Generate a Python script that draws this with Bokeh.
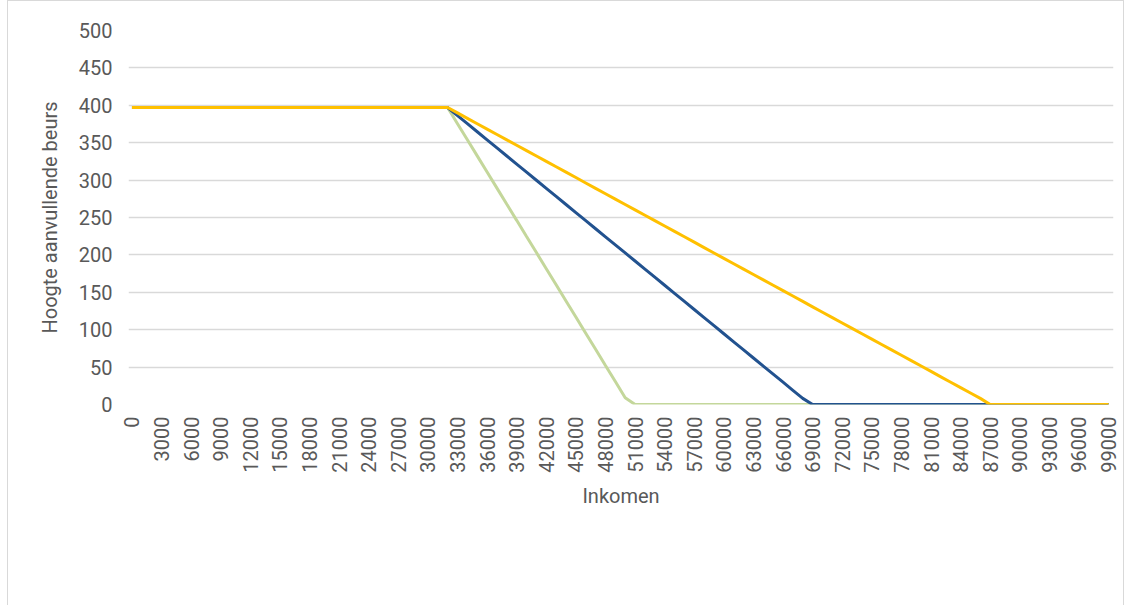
import math
from bokeh.plotting import figure
from bokeh.models import Range1d, FixedTicker, Legend, LegendItem
from bokeh.embed import file_html
from bokeh.resources import INLINE

income = list(range(0, 100000, 1000))

basis = [397, 397, 397, 397, 397, 397, 397, 397, 397, 397,
         397, 397, 397, 397, 397, 397, 397, 397, 397, 397,
         397, 397, 397, 397, 397, 397, 397, 397, 397, 397,
         397, 397, 397, 375.4, 353.9, 332.4, 310.8, 289.3, 267.7, 246.2,
         224.6, 203.1, 181.5, 160.0, 138.4, 116.9, 95.3, 73.8, 52.2, 30.7,
         9.1, 0, 0, 0, 0, 0, 0, 0, 0, 0,
         0, 0, 0, 0, 0, 0, 0, 0, 0, 0,
         0, 0, 0, 0, 0, 0, 0, 0, 0, 0,
         0, 0, 0, 0, 0, 0, 0, 0, 0, 0,
         0, 0, 0, 0, 0, 0, 0, 0, 0, 0]

twee = [397, 397, 397, 397, 397, 397, 397, 397, 397, 397,
        397, 397, 397, 397, 397, 397, 397, 397, 397, 397,
        397, 397, 397, 397, 397, 397, 397, 397, 397, 397,
        397, 397, 397, 386.2, 375.4, 364.6, 353.8, 343.0, 332.2, 321.4,
        310.6, 299.8, 289.0, 278.2, 267.4, 256.6, 245.8, 235.0, 224.2, 213.4,
        202.6, 191.8, 181.0, 170.2, 159.4, 148.6, 137.8, 127.0, 116.2, 105.4,
        94.6, 83.8, 73.0, 62.2, 51.4, 40.6, 29.8, 19.0, 8.2, 0,
        0, 0, 0, 0, 0, 0, 0, 0, 0, 0,
        0, 0, 0, 0, 0, 0, 0, 0, 0, 0,
        0, 0, 0, 0, 0, 0, 0, 0, 0, 0]

drie = [397, 397, 397, 397, 397, 397, 397, 397, 397, 397,
        397, 397, 397, 397, 397, 397, 397, 397, 397, 397,
        397, 397, 397, 397, 397, 397, 397, 397, 397, 397,
        397, 397, 397, 389.8, 382.6, 375.4, 368.2, 361.0, 353.8, 346.6,
        339.4, 332.2, 325.0, 317.8, 310.6, 303.4, 296.2, 289.0, 281.8, 274.6,
        267.4, 260.2, 253.0, 245.8, 238.6, 231.4, 224.2, 217.0, 209.8, 202.6,
        195.4, 188.2, 181.0, 173.8, 166.6, 159.4, 152.2, 145.0, 137.8, 130.6,
        123.4, 116.2, 109.0, 101.8, 94.6, 87.4, 80.2, 73.0, 65.8, 58.6,
        51.4, 44.2, 37.0, 29.8, 22.6, 15.4, 8.2, 0, 0, 0,
        0, 0, 0, 0, 0, 0, 0, 0, 0, 0]

x_ticks = list(range(0, 100000, 3000))
y_ticks = [0, 50, 100, 150, 200, 250, 300, 350, 400, 450, 500]

series_names = ["Basis", "Twee studerende kinderen", "Drie studerende kinderen"]
colors = ["#c4d79b", "#22528f", "#ffc000"]

FONT = "Roboto"
TXT = "#595959"
GRID = "#d9d9d9"

p = figure(output_backend="svg", toolbar_location=None,
           frame_width=985, frame_height=374,
           min_border_left=120, min_border_right=10,
           min_border_top=29, min_border_bottom=0,
           x_range=Range1d(-350, 99500), y_range=Range1d(0, 500))
p.margin = (0, 0, 0, 7)
p.background_fill_color = "white"
p.border_fill_color = "white"
p.outline_line_color = None
p.styles = {"border": "1px solid #d9d9d9"}

renderers = []
for ys, c in zip([basis, twee, drie], colors):
    r = p.line(income, ys, line_color=c, line_width=3)
    renderers.append(r)

p.xaxis.ticker = FixedTicker(ticks=x_ticks)
p.yaxis.ticker = FixedTicker(ticks=y_ticks)
p.xaxis.major_label_orientation = math.pi / 2
p.xgrid.grid_line_color = None
p.ygrid.grid_line_color = GRID
p.ygrid.grid_line_width = 1.3

for ax in (p.xaxis[0], p.yaxis[0]):
    ax.axis_line_color = None
    ax.major_tick_line_color = None
    ax.minor_tick_line_color = None
    ax.major_tick_in = 0
    ax.major_tick_out = 0
    ax.major_label_text_font = FONT
    ax.major_label_text_font_size = "20px"
    ax.major_label_text_color = TXT
    ax.axis_label_text_font = FONT
    ax.axis_label_text_font_size = "20px"
    ax.axis_label_text_color = TXT
    ax.axis_label_text_font_style = "normal"

p.xaxis.major_label_standoff = 12
p.yaxis.major_label_standoff = 16
p.xaxis.axis_label = "Inkomen"
p.yaxis.axis_label = "Hoogte aanvullende beurs"
p.xaxis.axis_label_standoff = 8
p.yaxis.axis_label_standoff = 14

legend = Legend(items=[LegendItem(label=n, renderers=[r]) for n, r in zip(series_names, renderers)],
                orientation="horizontal", location="center",
                glyph_width=51, glyph_height=20, label_height=20, label_standoff=6, spacing=44,
                label_text_font=FONT, label_text_font_size="20px", label_text_color=TXT,
                border_line_color=None, background_fill_alpha=0, margin=0, padding=0)
p.add_layout(legend, "below")

open("out.html", "w").write(file_html(p, INLINE))
